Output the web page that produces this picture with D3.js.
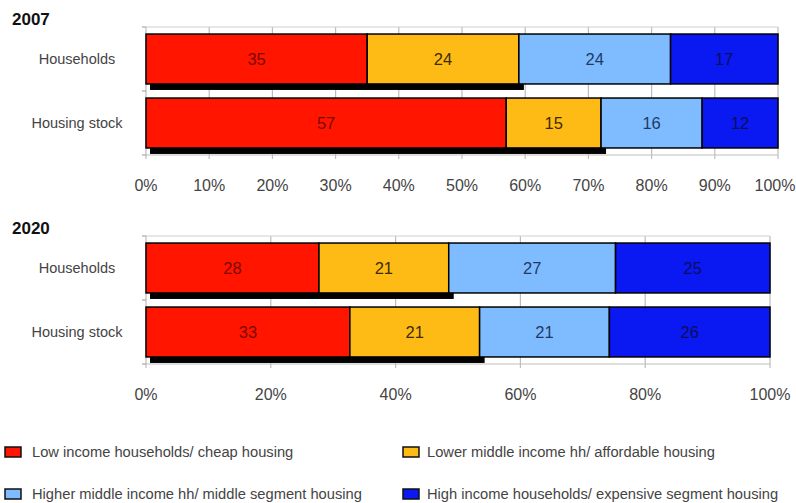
<!DOCTYPE html>
<html>
<head>
<meta charset="utf-8">
<script src="https://cdn.jsdelivr.net/npm/d3@7"></script>
<style>
  body { margin: 0; background: #fff; font-family: "Liberation Sans", Arial, sans-serif; }
</style>
</head>
<body>
<div id="chart-area"></div>
<script>
const width = 796;
const height = 503;

const categories = ["Households", "Housing stock"];
const seriesNames = [
    "Low income households/ cheap housing",
    "Lower middle income hh/ affordable housing",
    "Higher middle income hh/ middle segment housing",
    "High income households/ expensive segment housing"
];
const seriesColors = ["#ff1500", "#ffbb15", "#7fbcff", "#0a18f2"];
const labelColors = ["#7a0a00", "#3d2b00", "#1d3a66", "#0a0f5a"];

const households2007 = [35, 24, 24, 17];
const housingStock2007 = [57, 15, 16, 12];
const households2020 = [28, 21, 27, 25];
const housingStock2020 = [33, 21, 21, 26];

const ticks2007 = [0, 0.1, 0.2, 0.3, 0.4, 0.5, 0.6, 0.7, 0.8, 0.9, 1];
const ticks2020 = [0, 0.2, 0.4, 0.6, 0.8, 1];

const svg = d3.select("#chart-area")
    .append("svg")
    .attr("width", width)
    .attr("height", height);

function drawPanel(year, rows, tickValues, top, bottom, right) {
    const g = svg.append("g");

    const xScale = d3.scaleLinear().domain([0, 1]).range([146, right]);
    const yScale = d3.scaleBand()
        .domain(categories)
        .range([top, bottom])
        .paddingInner(0.22)
        .paddingOuter(0.11);

    const table = categories.map((c, i) => {
        const row = {category: c};
        seriesNames.forEach((s, j) => row[s] = rows[i][j]);
        return row;
    });
    const stacked = d3.stack()
        .keys(seriesNames)
        .offset(d3.stackOffsetExpand)(table);

    // year title
    g.append("text")
        .attr("x", 12)
        .attr("y", top - 2)
        .style("font-size", "17px")
        .style("font-weight", "bold")
        .attr("fill", "#111")
        .text(year);

    // grid
    g.selectAll(".grid")
        .data(tickValues)
        .enter()
        .append("line")
        .attr("x1", d => xScale(d))
        .attr("x2", d => xScale(d))
        .attr("y1", top)
        .attr("y2", bottom + 4)
        .attr("stroke", "#bdbdbd")
        .attr("stroke-width", 1.2);

    g.append("line")
        .attr("x1", xScale(0))
        .attr("x2", xScale(1))
        .attr("y1", top)
        .attr("y2", top)
        .attr("stroke", "#cfcfcf");

    g.append("line")
        .attr("x1", xScale(0))
        .attr("x2", xScale(1))
        .attr("y1", bottom)
        .attr("y2", bottom)
        .attr("stroke", "#bdbdbd");

    // left axis tick marks at band edges
    const edges = [top, top + yScale.step(), bottom];
    g.selectAll(".ytick")
        .data(edges)
        .enter()
        .append("line")
        .attr("x1", xScale(0) - 4)
        .attr("x2", xScale(0))
        .attr("y1", d => d)
        .attr("y2", d => d)
        .attr("stroke", "#999");

    // x tick labels (last one nudged so it stays inside the page)
    g.selectAll(".xlabel")
        .data(tickValues)
        .enter()
        .append("text")
        .attr("x", d => Math.min(xScale(d), width - 21))
        .attr("y", bottom + 36)
        .attr("text-anchor", "middle")
        .style("font-size", "16px")
        .attr("fill", "#444")
        .text(d => d3.format(".0%")(d));

    // category labels
    g.selectAll(".cat")
        .data(categories)
        .enter()
        .append("text")
        .attr("x", 77)
        .attr("y", d => yScale(d) + yScale.bandwidth() / 2 + 5)
        .attr("text-anchor", "middle")
        .style("font-size", "14.5px")
        .attr("fill", "#444")
        .text(d => d);

    // shadow under the first two segments
    const firstTwo = stacked[1];
    g.selectAll(".shadow")
        .data(firstTwo)
        .enter()
        .append("rect")
        .attr("x", xScale(0) + 4)
        .attr("y", d => yScale(d.data.category) + 6)
        .attr("width", d => xScale(d[1]) - xScale(0) + 1)
        .attr("height", yScale.bandwidth())
        .attr("fill", "#000");

    // bars
    stacked.forEach((layer, j) => {
        const segs = g.selectAll(".seg" + j)
            .data(layer)
            .enter();

        segs.append("rect")
            .attr("x", d => xScale(d[0]))
            .attr("y", d => yScale(d.data.category))
            .attr("width", d => xScale(d[1]) - xScale(d[0]))
            .attr("height", yScale.bandwidth())
            .attr("fill", seriesColors[j])
            .attr("stroke", "#000")
            .attr("stroke-width", 1.5);

        segs.append("text")
            .attr("x", d => (xScale(d[0]) + xScale(d[1])) / 2)
            .attr("y", d => yScale(d.data.category) + yScale.bandwidth() / 2 + 6)
            .attr("text-anchor", "middle")
            .style("font-size", "16.5px")
            .attr("fill", labelColors[j])
            .text(d => d.data[layer.key]);
    });
}

drawPanel("2007", [households2007, housingStock2007], ticks2007, 27, 155, 778);
drawPanel("2020", [households2020, housingStock2020], ticks2020, 236, 364, 770);

// legend
const legendPos = [[5, 452], [403, 452], [5, 494], [403, 494]];
const legend = svg.selectAll(".legend")
    .data(seriesNames)
    .enter()
    .append("g")
    .attr("transform", (d, i) => `translate(${legendPos[i][0]}, ${legendPos[i][1]})`);

legend.append("rect")
    .attr("x", 0)
    .attr("y", -5)
    .attr("width", 16)
    .attr("height", 10)
    .attr("fill", (d, i) => seriesColors[i])
    .attr("stroke", "#111")
    .attr("stroke-width", 1.5);

legend.append("text")
    .attr("x", (d, i) => i % 2 === 0 ? 27 : 24)
    .attr("y", 5)
    .style("font-size", "14.7px")
    .attr("fill", "#444")
    .text(d => d);
</script>
</body>
</html>
